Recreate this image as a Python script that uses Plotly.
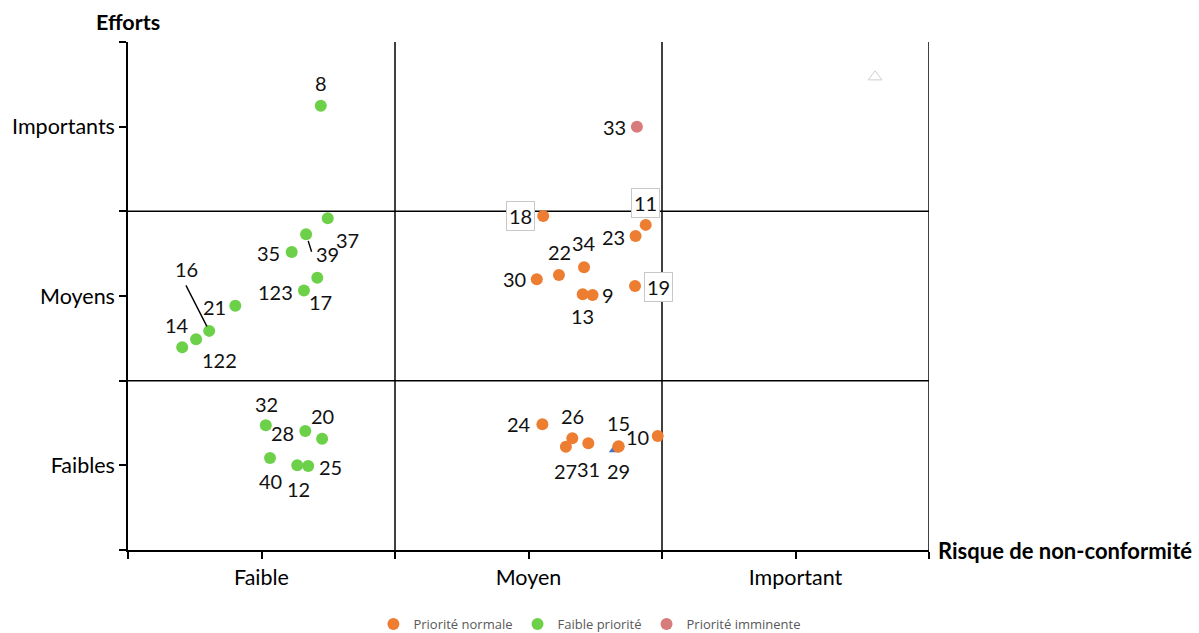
import plotly.graph_objects as go

# Axis categories
risk_levels = ["Faible", "Moyen", "Important"]
effort_levels = ["Faibles", "Moyens", "Importants"]

# Priorité normale
normal_ids = ["18", "11", "23", "34", "22", "30", "13", "9", "19",
              "24", "26", "27", "31", "29", "15", "10"]
normal_risk = [1.555, 1.939, 1.901, 1.708, 1.614, 1.531, 1.703, 1.740, 1.899,
               1.552, 1.664, 1.640, 1.724, 1.836, 1.838, 1.984]
normal_effort = [1.973, 1.920, 1.855, 1.670, 1.624, 1.599, 1.510, 1.506, 1.559,
                 0.742, 0.660, 0.610, 0.630, 0.610, 0.612, 0.673]

# Faible priorité
low_ids = ["8", "37", "39", "35", "17", "123", "21", "16", "122", "14",
           "32", "28", "20", "40", "12", "25"]
low_risk = [0.722, 0.748, 0.667, 0.613, 0.709, 0.659, 0.402, 0.304, 0.255, 0.203,
            0.516, 0.664, 0.727, 0.532, 0.634, 0.675]
low_effort = [2.624, 1.959, 1.865, 1.760, 1.608, 1.532, 1.443, 1.294, 1.245, 1.197,
              0.737, 0.703, 0.657, 0.543, 0.500, 0.496]

# Priorité imminente
urgent_ids = ["33"]
urgent_risk = [1.906]
urgent_effort = [2.499]

# Unlabelled helper series
extra_risk = [1.82]
extra_effort = [0.59]
corner_risk = [2.798]
corner_effort = [2.794]

# Label placement (pixel offsets from the marker: dx right, dy down)
label_offsets = {
    "8": (0, -23), "37": (20, 22), "39": (21, 20), "35": (-23, 1), "17": (3, 24),
    "123": (-28, 1), "21": (-21, 1), "16": (-23, -62), "122": (23, 21), "14": (-5, -22),
    "32": (1, -21), "28": (-23, 2), "20": (0, -23), "40": (0, 23), "12": (1, 24),
    "25": (22, 1),
    "18": (-23, 0), "11": (0, -22), "23": (-22, 1), "34": (0, -24), "22": (1, -23),
    "30": (-22, 0), "13": (0, 22), "9": (15, 0), "19": (23, 1), "24": (-23, 0),
    "26": (0, -22), "27": (0, 24), "31": (0, 26), "29": (0, 24), "15": (0, -23),
    "10": (-20, 1), "33": (-22, 0),
}
boxed_labels = {"18", "11", "19"}
# leader lines: tail offset (dx, dy) and standoff from the marker
leader_lines = {"16": (-24, -47, 5), "39": (6, 19, 7)}

ORANGE = "#ED7D31"
GREEN = "#6CD148"
PINK = "#D77B7B"
LABEL_FONT = dict(family="Lato", size=20, color="#111111")
AXIS_FONT = dict(family="Lato", size=21.5, color="black")

fig = go.Figure()

fig.add_trace(go.Scatter(
    x=extra_risk, y=extra_effort, mode="markers", showlegend=False, hoverinfo="skip",
    marker=dict(symbol="triangle-up", size=9, color="#4472C4"),
))
fig.add_trace(go.Scatter(
    x=normal_risk, y=normal_effort, mode="markers", name="Priorité normale",
    text=normal_ids, marker=dict(size=12, color=ORANGE),
))
fig.add_trace(go.Scatter(
    x=low_risk, y=low_effort, mode="markers", name="Faible priorité",
    text=low_ids, marker=dict(size=12, color=GREEN),
))
fig.add_trace(go.Scatter(
    x=urgent_risk, y=urgent_effort, mode="markers", name="Priorité imminente",
    text=urgent_ids, marker=dict(size=12, color=PINK),
))
fig.add_trace(go.Scatter(
    x=corner_risk, y=corner_effort, mode="markers", showlegend=False, hoverinfo="skip",
    marker=dict(symbol="triangle-up-open", size=12, color="#cfcfcf", line=dict(width=1)),
))

annotations = []
for ids, xs, ys in [(normal_ids, normal_risk, normal_effort),
                    (low_ids, low_risk, low_effort),
                    (urgent_ids, urgent_risk, urgent_effort)]:
    for pid, px, py in zip(ids, xs, ys):
        dx, dy = label_offsets[pid]
        ann = dict(x=px, y=py, xref="x", yref="y", text=pid, showarrow=False,
                   xshift=dx, yshift=-dy, font=LABEL_FONT)
        if pid in boxed_labels:
            ann.update(bgcolor="white", bordercolor="#c8c8c8", borderwidth=1, borderpad=2)
        annotations.append(ann)
        if pid in leader_lines:
            tx, ty, so = leader_lines[pid]
            annotations.append(dict(
                x=px, y=py, xref="x", yref="y", text="", showarrow=True,
                ax=tx, ay=ty, arrowhead=0, arrowwidth=1.4, arrowcolor="black",
                standoff=so,
            ))

# Axis titles
annotations.append(dict(
    x=0, y=1, xref="paper", yref="paper", text="<b>Efforts</b>", showarrow=False,
    xanchor="center", yanchor="middle", yshift=20,
    font=dict(family="Lato", size=21.5, color="black"),
))
annotations.append(dict(
    x=1, y=0, xref="paper", yref="paper", text="<b>Risque de non-conformité</b>",
    showarrow=False, xanchor="left", yanchor="middle", xshift=7,
    font=dict(family="Lato", size=22, color="black"),
))

# Quadrant grid
shapes = []
for v in [1, 2, 3]:
    shapes.append(dict(type="line", xref="x", yref="y", x0=v, x1=v, y0=0, y1=3,
                       line=dict(color="black", width=1.5), layer="below"))
for v in [1, 2]:
    shapes.append(dict(type="line", xref="x", yref="y", x0=0, x1=3, y0=v, y1=v,
                       line=dict(color="black", width=1.5), layer="below"))

tick_pos = [0, 0.5, 1, 1.5, 2, 2.5, 3]
axis_common = dict(
    range=[0, 3], tickvals=tick_pos, ticks="outside", ticklen=7, tickwidth=1.5,
    tickcolor="black", showline=True, linecolor="black", linewidth=1.5,
    showgrid=False, zeroline=False, fixedrange=True, tickfont=AXIS_FONT,
)

fig.update_layout(
    width=1199, height=633,
    margin=dict(l=128, r=270, t=42, b=83),
    plot_bgcolor="white", paper_bgcolor="white",
    xaxis=dict(axis_common, ticktext=["", risk_levels[0], "", risk_levels[1], "",
                                      risk_levels[2], ""]),
    yaxis=dict(axis_common, ticktext=["", effort_levels[0], "", effort_levels[1], "",
                                      effort_levels[2], ""]),
    shapes=shapes,
    annotations=annotations,
    showlegend=True,
    legend=dict(orientation="h", xref="container", yref="container",
                x=0.492, y=0.014, xanchor="center", yanchor="middle",
                font=dict(family="Open Sans", size=13, color="#595959"),
                itemsizing="constant"),
)

fig.write_html("out.html")
